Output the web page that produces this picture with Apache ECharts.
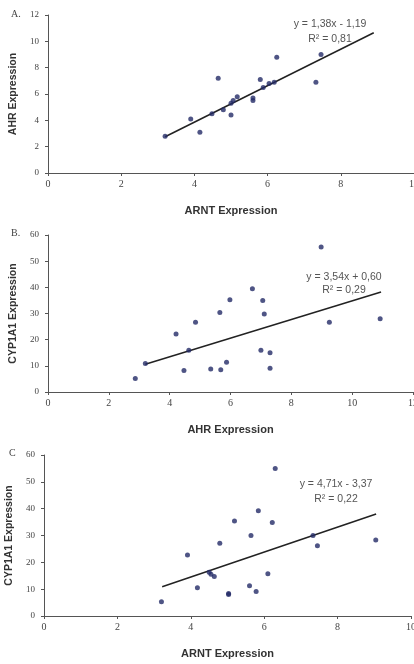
<!DOCTYPE html>
<html>
<head>
<meta charset="utf-8">
<script src="https://cdn.jsdelivr.net/npm/echarts@6/dist/echarts.min.js"></script>
<style>
  html, body { margin: 0; padding: 0; background: #fff; }
  #main { width: 414px; height: 664px; }
</style>
</head>
<body>
<div id="main"></div>
<script>
// panel A: ARNT vs AHR
var arntA = [3.2, 3.9, 4.15, 4.48, 4.65, 4.79, 5.0, 5.0, 5.06, 5.17, 5.6, 5.6, 5.8, 5.88, 6.04, 6.18, 6.25, 7.32, 7.46];
var ahrA = [2.8, 4.1, 3.1, 4.5, 7.2, 4.8, 4.4, 5.3, 5.5, 5.8, 5.5, 5.7, 7.1, 6.5, 6.8, 6.9, 8.8, 6.9, 9.0];
var trendA = [[3.2, 2.75], [8.9, 10.65]];

// panel B: AHR vs CYP1A1
var ahrB = [2.87, 3.2, 4.21, 4.47, 4.63, 4.85, 5.35, 5.65, 5.68, 5.87, 5.98, 6.72, 7.0, 7.06, 7.11, 7.3, 7.3, 8.98, 9.25, 10.92];
var cypB = [5.2, 10.9, 22.2, 8.2, 16, 26.7, 8.8, 30.4, 8.5, 11.4, 35.3, 39.5, 16, 35, 29.8, 15, 9.1, 55.4, 26.7, 28];
var trendB = [[3.2, 10.6], [10.95, 38.2]];

// panel C: ARNT vs CYP1A1
var arntC = [3.2, 3.91, 4.18, 4.5, 4.55, 4.64, 4.79, 5.03, 5.03, 5.19, 5.6, 5.64, 5.78, 5.84, 6.1, 6.22, 6.3, 7.33, 7.45, 9.04];
var cypC = [5.3, 22.7, 10.5, 16.3, 15.6, 14.7, 27.1, 8.4, 8.0, 35.4, 11.3, 30, 9.1, 39.2, 15.7, 34.8, 55, 30, 26.2, 28.3];
var trendC = [[3.22, 10.9], [9.05, 38.0]];

var eqTexts = [
  ["y = 1,38x - 1,19", "R\u00b2 = 0,81"],
  ["y = 3,54x + 0,60", "R\u00b2 = 0,29"],
  ["y = 4,71x - 3,37", "R\u00b2 = 0,22"]
];

function pairs(xs, ys) {
  return xs.map(function (x, i) { return [x, ys[i]]; });
}

var dotColor = "#232a66";
var axisColor = "#555";
var labelFont = "'Liberation Serif', 'DejaVu Serif', serif";
var titleFont = "'Liberation Sans', Arial, sans-serif";

function xAxisOf(idx, max, name) {
  return {
    gridIndex: idx, type: "value", min: 0, max: max, interval: 2,
    name: name, nameLocation: "middle", nameGap: 32,
    nameTextStyle: { color: "#333", fontSize: 11, fontWeight: "bold", fontFamily: titleFont },
    axisLine: { lineStyle: { color: axisColor, width: 1 } },
    axisTick: { show: true, length: 3, lineStyle: { color: axisColor } },
    axisLabel: { color: "#444", fontSize: 10, fontFamily: labelFont, margin: 6 },
    splitLine: { show: false }
  };
}
function yAxisOf(idx, max, interval, name) {
  return {
    gridIndex: idx, type: "value", min: 0, max: max, interval: interval,
    name: name, nameLocation: "middle", nameGap: 27, nameRotate: 90,
    nameTextStyle: { color: "#333", fontSize: 10.5, fontWeight: "bold", fontFamily: titleFont },
    axisLine: { show: true, lineStyle: { color: axisColor, width: 1 } },
    axisTick: { show: true, length: 3, lineStyle: { color: axisColor } },
    axisLabel: { color: "#444", fontSize: 9, fontFamily: labelFont, margin: 9 },
    splitLine: { show: false }
  };
}

function scatterOf(idx, data) {
  return {
    type: "scatter", xAxisIndex: idx, yAxisIndex: idx, data: data,
    symbolSize: 5, itemStyle: { color: dotColor }, z: 3
  };
}
function trendOf(idx, data) {
  return {
    type: "line", xAxisIndex: idx, yAxisIndex: idx, data: data,
    showSymbol: false, lineStyle: { color: "#222", width: 1.5 }, z: 2
  };
}

function eqText(x, y, txt) {
  return {
    type: "text", x: x, y: y,
    style: { text: txt, align: "center", verticalAlign: "middle", fontSize: 10.5, fill: "#555", fontFamily: titleFont }
  };
}

var myChart = echarts.init(document.getElementById("main"));
var option = {
  backgroundColor: "#fff",
  animation: false,
  grid: [
    { left: 48, right: 0, top: 15, height: 158, outerBoundsMode: "none", containLabel: false },
    { left: 48, right: 1, top: 235, height: 157, outerBoundsMode: "none", containLabel: false },
    { left: 44, right: 3, top: 455, height: 161, outerBoundsMode: "none", containLabel: false }
  ],
  xAxis: [
    xAxisOf(0, 10, "ARNT Expression"),
    xAxisOf(1, 12, "AHR Expression"),
    xAxisOf(2, 10, "ARNT Expression")
  ],
  yAxis: [
    yAxisOf(0, 12, 2, "AHR Expression"),
    yAxisOf(1, 60, 10, "CYP1A1 Expression"),
    yAxisOf(2, 60, 10, "CYP1A1 Expression")
  ],
  graphic: [
    { type: "text", left: 11, top: 9, style: { text: "A.", fontSize: 10, fill: "#444", fontFamily: labelFont } },
    { type: "text", left: 11, top: 228, style: { text: "B.", fontSize: 10, fill: "#444", fontFamily: labelFont } },
    { type: "text", left: 9, top: 448, style: { text: "C", fontSize: 10, fill: "#444", fontFamily: labelFont } },
    eqText(330, 24, eqTexts[0][0]), eqText(330, 39, eqTexts[0][1]),
    eqText(344, 277, eqTexts[1][0]), eqText(344, 290, eqTexts[1][1]),
    eqText(336, 484, eqTexts[2][0]), eqText(336, 499, eqTexts[2][1])
  ],
  series: [
    trendOf(0, trendA), scatterOf(0, pairs(arntA, ahrA)),
    trendOf(1, trendB), scatterOf(1, pairs(ahrB, cypB)),
    trendOf(2, trendC), scatterOf(2, pairs(arntC, cypC))
  ]
};
myChart.setOption(option);
</script>
</body>
</html>
